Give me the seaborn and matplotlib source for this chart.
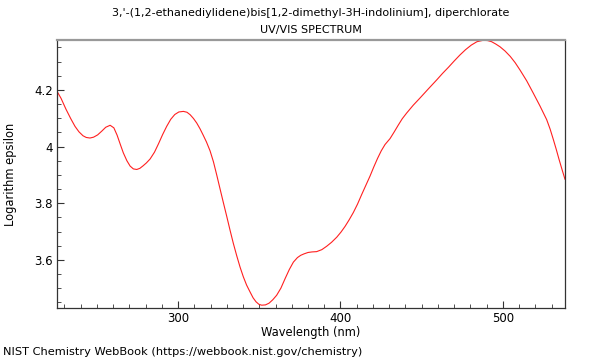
import numpy as np
import pandas as pd
import matplotlib
matplotlib.use("Agg")
import matplotlib.pyplot as plt
import seaborn as sns
from matplotlib.ticker import MultipleLocator, FuncFormatter

# values
wavelength = [225.0, 228.0, 231.0, 234.0, 236.6, 239.0, 241.5, 243.5, 245.8, 248.0,
              250.5, 253.0, 255.5, 258.2, 260.5, 262.5, 264.5, 266.3, 268.5, 270.5,
              272.5, 274.6, 276.5, 278.5, 280.5, 282.8, 285.5, 288.0, 290.5, 293.0,
              295.5, 298.0, 300.5, 303.3, 305.5, 307.5, 309.5, 311.5, 313.5, 315.5,
              317.5, 319.7, 321.8, 323.8, 325.8, 327.9, 330.0, 332.0, 334.0, 336.1,
              338.2, 340.2, 342.2, 344.3, 346.2, 348.0, 349.8, 351.5, 353.8, 356.0,
              358.3, 360.7, 363.3, 366.0, 368.5, 371.0, 373.5, 375.5, 377.5, 380.0,
              382.5, 385.3, 388.5, 391.5, 394.5, 397.7, 400.3, 402.8, 405.3, 407.9,
              410.5, 413.0, 415.6, 418.2, 420.5, 422.8, 425.1, 427.4, 430.5, 433.0,
              435.5, 438.0, 440.7, 444.8, 448.9, 454.0, 459.2, 462.8, 466.5, 470.0,
              473.5, 477.0, 480.5, 484.0, 487.9, 490.5, 493.0, 495.5, 498.2, 501.3,
              504.5, 507.5, 510.5, 514.6, 518.7, 522.8, 526.9, 529.0, 531.0, 532.8,
              534.5, 536.3, 538.2]
log_eps = [4.200, 4.170, 4.132, 4.098, 4.071, 4.052, 4.038, 4.032, 4.030, 4.033,
           4.041, 4.054, 4.068, 4.075, 4.066, 4.040, 4.007, 3.978, 3.950, 3.931,
           3.921, 3.919, 3.923, 3.932, 3.942, 3.956, 3.980, 4.010, 4.042, 4.071,
           4.096, 4.113, 4.122, 4.124, 4.121, 4.112, 4.099, 4.083, 4.063, 4.040,
           4.016, 3.985, 3.946, 3.900, 3.852, 3.802, 3.753, 3.705, 3.659, 3.615,
           3.574, 3.540, 3.511, 3.487, 3.466, 3.452, 3.443, 3.440, 3.441, 3.447,
           3.459, 3.475, 3.500, 3.535, 3.566, 3.592, 3.608, 3.616, 3.621, 3.626,
           3.628, 3.629, 3.636, 3.648, 3.662, 3.680, 3.698, 3.718, 3.741, 3.767,
           3.797, 3.830, 3.863, 3.896, 3.928, 3.958, 3.985, 4.007, 4.028, 4.051,
           4.075, 4.098, 4.118, 4.146, 4.171, 4.203, 4.235, 4.258, 4.280, 4.302,
           4.323, 4.342, 4.358, 4.370, 4.375, 4.374, 4.370, 4.362, 4.352, 4.337,
           4.318, 4.296, 4.270, 4.232, 4.188, 4.143, 4.095, 4.062, 4.025, 3.990,
           3.955, 3.920, 3.884]

df = pd.DataFrame({"Wavelength (nm)": wavelength, "Logarithm epsilon": log_eps})

sns.set_style("white")
plt.rcParams["font.family"] = ["DejaVu Sans"]
plt.rcParams["text.color"] = "black"
plt.rcParams["axes.labelcolor"] = "black"

fig = plt.figure(figsize=(6, 3.6), dpi=100)
ax = fig.add_axes([0.095, 0.1444, 0.8467, 0.7445])
sns.lineplot(data=df, x="Wavelength (nm)", y="Logarithm epsilon", ax=ax,
             color="#ff2020", linewidth=0.8, sort=False)

ax.set_xlim(225.5, 538.2)
ax.set_ylim(3.43, 4.376)
ax.xaxis.set_major_locator(MultipleLocator(100))
ax.xaxis.set_minor_locator(MultipleLocator(10))
ax.yaxis.set_major_locator(MultipleLocator(0.2))
ax.yaxis.set_minor_locator(MultipleLocator(0.05))
ax.yaxis.set_major_formatter(FuncFormatter(lambda v, p: "%g" % round(v, 2)))
ax.tick_params(which="both", direction="in", bottom=True, left=True,
               top=False, right=False, labelsize=8.5, color="#333333",
               labelcolor="black")
ax.tick_params(which="major", length=5, width=0.8, pad=3)
ax.tick_params(which="minor", length=3, width=0.6)
ax.set_xlabel("Wavelength (nm)", fontsize=8.3)
ax.set_ylabel("Logarithm epsilon", fontsize=8.3)
ax.xaxis.set_label_coords(0.5, -0.093)
ax.yaxis.set_label_coords(-0.0925, 0.5)
ax.xaxis.label.set_va("center")
ax.yaxis.label.set_va("center")
for s in ["left", "bottom", "right"]:
    ax.spines[s].set_color("#333333")
    ax.spines[s].set_linewidth(0.9)
ax.spines["top"].set_color("#999999")
ax.spines["top"].set_linewidth(1.6)

fig.text(0.518, 0.964, "3,'-(1,2-ethanediylidene)bis[1,2-dimethyl-3H-indolinium], diperchlorate",
         ha="center", va="center", fontsize=8)
fig.text(0.518, 0.917, "UV/VIS SPECTRUM", ha="center", va="center", fontsize=8)
fig.text(0.005, 0.022, "NIST Chemistry WebBook (https://webbook.nist.gov/chemistry)",
         ha="left", va="center", fontsize=8.2)

fig.savefig("out.png", dpi=100)
